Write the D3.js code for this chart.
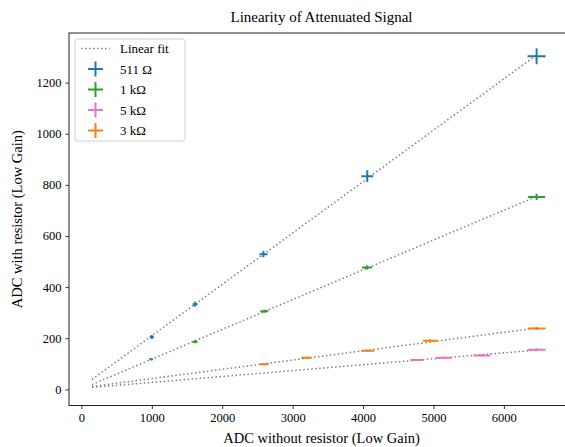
<!DOCTYPE html>
<html><head><meta charset="utf-8">
<script src="https://cdn.jsdelivr.net/npm/d3@7"></script>
<style>
html,body{margin:0;padding:0;background:#fff;}
svg{display:block;}
text{font-family:"Liberation Serif","DejaVu Serif",serif;fill:#000;}
</style></head>
<body>
<svg id="chart" width="565" height="447"></svg>
<script>
// ---- data ----
const seriesNames = ["511 Ω", "1 kΩ", "5 kΩ", "3 kΩ"];
const seriesColors = ["#1f77b4", "#2ca02c", "#e377c2", "#ff7f0e"];

const x511 = [1000, 1615, 2585, 4060, 6465];
const y511 = [205, 333, 529, 834, 1303];
const xe511 = [28, 36, 57, 85, 128];
const ye511 = [8, 10, 12, 23, 31];

const x1k = [990, 1615, 2598, 4057, 6465];
const y1k = [118, 186, 306, 477, 753];
const xe1k = [28, 36, 57, 71, 121];
const ye1k = [4, 6, 6, 8, 12];

const x5k = [4763, 5151, 5686, 6465];
const y5k = [115, 124, 133, 155];
const xe5k = [92, 114, 121, 128];
const ye5k = [4, 4, 4, 6];

const x3k = [2598, 3195, 4067, 4952, 6465];
const y3k = [98, 124, 151, 190, 238];
const xe3k = [64, 71, 92, 99, 128];
const ye3k = [4, 4, 4, 6, 6];

const fitRange = [150, 6465];
const xTicks = [0, 1000, 2000, 3000, 4000, 5000, 6000];
const yTicks = [0, 200, 400, 600, 800, 1000, 1200];
const xDomain = [-176, 6996];
const yDomain = [-63, 1394];

const titleText = "Linearity of Attenuated Signal";
const xLabelText = "ADC without resistor (Low Gain)";
const yLabelText = "ADC with resistor (Low Gain)";
const fitLabel = "Linear fit";

// ---- build ----
const series = [
  {name: seriesNames[0], color: seriesColors[0], x: x511, y: y511, xe: xe511, ye: ye511},
  {name: seriesNames[1], color: seriesColors[1], x: x1k, y: y1k, xe: xe1k, ye: ye1k},
  {name: seriesNames[2], color: seriesColors[2], x: x5k, y: y5k, xe: xe5k, ye: ye5k},
  {name: seriesNames[3], color: seriesColors[3], x: x3k, y: y3k, xe: xe3k, ye: ye3k}
];

const svg = d3.select("#chart");
const L = 69, R = 574, T = 33, B = 405.5;
const xs = d3.scaleLinear().domain(xDomain).range([L, R]);
const ys = d3.scaleLinear().domain(yDomain).range([B, T]);

const plot = svg.append("g");
svg.append("clipPath").attr("id", "clip")
  .append("rect").attr("x", L).attr("y", T).attr("width", R - L).attr("height", B - T);

// linear fits (least squares)
function fit(xv, yv) {
  const n = xv.length, mx = d3.mean(xv), my = d3.mean(yv);
  let sxy = 0, sxx = 0;
  for (let i = 0; i < n; i++) { sxy += (xv[i]-mx)*(yv[i]-my); sxx += (xv[i]-mx)**2; }
  const m = sxy / sxx; return {m, b: my - m*mx};
}
const gFit = plot.append("g").attr("clip-path", "url(#clip)");
series.forEach(s => {
  const f = fit(s.x, s.y);
  const pts = fitRange.map(v => [v, f.m*v + f.b]);
  gFit.append("path")
    .attr("d", d3.line().x(d => xs(d[0])).y(d => ys(d[1]))(pts))
    .attr("fill", "none").attr("stroke", "#808080")
    .attr("stroke-width", 1.5).attr("stroke-dasharray", "1.5,2.5");
});

// error bars
const gErr = plot.append("g").attr("clip-path", "url(#clip)");
series.forEach(s => {
  const g = gErr.append("g").attr("stroke", s.color).attr("stroke-width", 2);
  s.x.forEach((xv, i) => {
    const yv = s.y[i];
    g.append("line").attr("x1", xs(xv - s.xe[i])).attr("x2", xs(xv + s.xe[i]))
      .attr("y1", ys(yv)).attr("y2", ys(yv));
    g.append("line").attr("x1", xs(xv)).attr("x2", xs(xv))
      .attr("y1", ys(yv - s.ye[i])).attr("y2", ys(yv + s.ye[i]));
  });
});

// axes
const xAxis = d3.axisBottom(xs).tickValues(xTicks).tickSize(3.5).tickPadding(4).tickFormat(d3.format("d"));
const yAxis = d3.axisLeft(ys).tickValues(yTicks).tickSize(3.5).tickPadding(4).tickFormat(d3.format("d"));
const gx = svg.append("g").attr("transform", `translate(0,${B})`).call(xAxis);
const gy = svg.append("g").attr("transform", `translate(${L},0)`).call(yAxis);
[gx, gy].forEach(g => {
  g.select(".domain").remove();
  g.selectAll(".tick line").attr("stroke", "#000").attr("stroke-width", 0.8);
  g.selectAll(".tick text").attr("font-size", 12.5).attr("font-family", "Liberation Serif, serif").attr("fill", "#000");
});

// spines
svg.append("rect").attr("x", L).attr("y", T).attr("width", R - L).attr("height", B - T)
  .attr("fill", "none").attr("stroke", "#222").attr("stroke-width", 1);

// labels
svg.append("text").attr("x", (L + R) / 2).attr("y", 22).attr("text-anchor", "middle")
  .attr("font-size", 15).text(titleText);
svg.append("text").attr("x", (L + R) / 2).attr("y", 443).attr("text-anchor", "middle")
  .attr("font-size", 14.5).text(xLabelText);
svg.append("text").attr("transform", `translate(22,${(T + B) / 2}) rotate(-90)`)
  .attr("text-anchor", "middle").attr("font-size", 14.5).text(yLabelText);

// legend
const lg = svg.append("g");
lg.append("rect").attr("x", 75).attr("y", 39).attr("width", 110).attr("height", 102)
  .attr("rx", 3).attr("fill", "#fff").attr("fill-opacity", 0.8)
  .attr("stroke", "#d0d0d0").attr("stroke-width", 1);
const rowY = [48.5, 69, 89.5, 110, 130.5];
lg.append("line").attr("x1", 81).attr("x2", 110).attr("y1", rowY[0]).attr("y2", rowY[0])
  .attr("stroke", "#808080").attr("stroke-width", 1.5).attr("stroke-dasharray", "1.5,2.5");
lg.append("text").attr("x", 120).attr("y", rowY[0] + 4.5).attr("font-size", 13).text(fitLabel);
series.forEach((s, i) => {
  const cy = rowY[i + 1], cx = 95.5;
  lg.append("line").attr("x1", cx - 7.5).attr("x2", cx + 7.5).attr("y1", cy).attr("y2", cy)
    .attr("stroke", s.color).attr("stroke-width", 2);
  lg.append("line").attr("x1", cx).attr("x2", cx).attr("y1", cy - 7.5).attr("y2", cy + 7.5)
    .attr("stroke", s.color).attr("stroke-width", 2);
  lg.append("text").attr("x", 120).attr("y", cy + 4.5).attr("font-size", 13).text(s.name);
});
</script>
</body></html>
